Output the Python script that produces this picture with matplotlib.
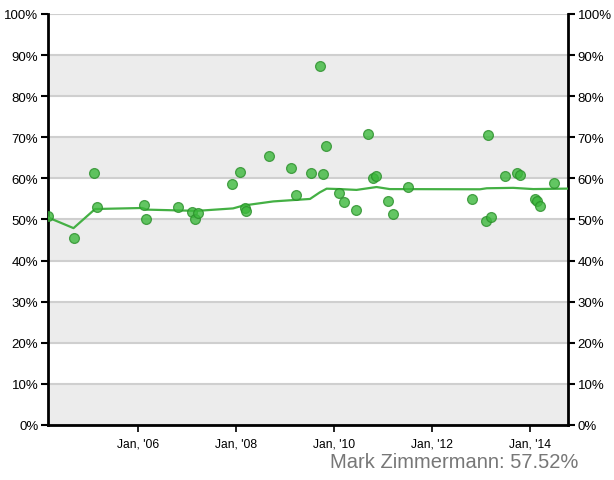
import matplotlib
matplotlib.use("Agg")
import matplotlib.pyplot as plt
import numpy as np
from datetime import datetime

plt.rcParams['font.family'] = ['Liberation Sans', 'DejaVu Sans']

def yr(y):
    year = int(y)
    start = datetime(year, 1, 1)
    end = datetime(year + 1, 1, 1)
    return start + (end - start) * (y - year)

poll_years = [2004.16, 2004.69, 2005.10, 2005.16, 2006.12, 2006.16, 2006.82, 2007.10,
              2007.16, 2007.22, 2007.92, 2008.08, 2008.18, 2008.20, 2008.67, 2009.12,
              2009.22, 2009.52, 2009.71, 2009.77, 2009.84, 2010.11, 2010.21, 2010.46,
              2010.70, 2010.79, 2010.85, 2011.10, 2011.20, 2011.51, 2012.81, 2013.14,
              2013.10, 2013.21, 2013.50, 2013.74, 2013.80, 2014.10, 2014.14, 2014.21,
              2014.49]
poll_values = [50.8, 45.5, 61.3, 53.0, 53.5, 50.1, 53.0, 51.8,
               50.1, 51.6, 58.6, 61.6, 52.8, 52.1, 65.5, 62.5,
               56.0, 61.4, 87.3, 61.0, 68.0, 56.4, 54.3, 52.2,
               70.8, 60.0, 60.6, 54.5, 51.4, 57.9, 55.0, 70.5,
               49.6, 50.5, 60.5, 61.2, 60.9, 54.9, 54.6, 53.3,
               58.9]

trend_years = [2004.16, 2004.68, 2005.12, 2006.08, 2006.18, 2007.20, 2007.94, 2008.15,
               2008.76, 2009.51, 2009.71, 2009.85, 2010.12, 2010.46, 2010.87, 2011.14,
               2012.98, 2013.12, 2013.66, 2014.07, 2014.78]
trend_values = [50.5, 47.9, 52.55, 52.8, 52.4, 52.1, 52.7, 53.4,
                54.4, 55.0, 56.6, 57.5, 57.4, 57.2, 57.9, 57.4,
                57.35, 57.6, 57.7, 57.4, 57.52]

y_ticks = list(range(0, 101, 10))
x_tick_years = [2006, 2008, 2010, 2012, 2014]
x_tick_labels = ["Jan, '06", "Jan, '08", "Jan, '10", "Jan, '12", "Jan, '14"]
label_text = "Mark Zimmermann: 57.52%"

fig = plt.figure(figsize=(6.14, 4.81), dpi=100)
ax = fig.add_axes([48/614, 1-426/481, 520/614, 411/481])

xmin, xmax = yr(2004.16), yr(2014.78)
ax.set_xlim(xmin, xmax)
ax.set_ylim(0, 100)

for lo in range(0, 100, 20):
    ax.axhspan(lo, lo + 10, color='#ececec', zorder=0, lw=0)
for t in y_ticks:
    ax.axhline(t, color='#cfcfcf', lw=1.5, zorder=1)

ax.plot([yr(v) for v in trend_years], trend_values, color='#44b044', lw=1.6, zorder=3)
ax.scatter([yr(v) for v in poll_years], poll_values, s=50, facecolor='#3cb83c',
           edgecolor='#2a8f2a', linewidth=0.9, alpha=0.8, zorder=4)

ax.set_yticks(y_ticks)
ax.set_yticklabels([f"{t}%" for t in y_ticks], fontsize=9.5)
ax.tick_params(axis='y', which='both', left=True, right=True, labelleft=True,
               labelright=True, length=5, width=1.5, direction='out', pad=2)
ax.set_xticks([yr(v) for v in x_tick_years])
ax.set_xticklabels(x_tick_labels, fontsize=8.7)
ax.tick_params(axis='x', length=5, width=1.2, direction='out', pad=4)

ax.spines['top'].set_visible(False)
for s in ['left', 'right', 'bottom']:
    ax.spines[s].set_linewidth(2)
    ax.spines[s].set_color('black')

fig.text(578/614, 1-462/481, label_text, ha='right', va='center',
         fontsize=14.5, color='#777777')

fig.savefig('out.png', dpi=100)
